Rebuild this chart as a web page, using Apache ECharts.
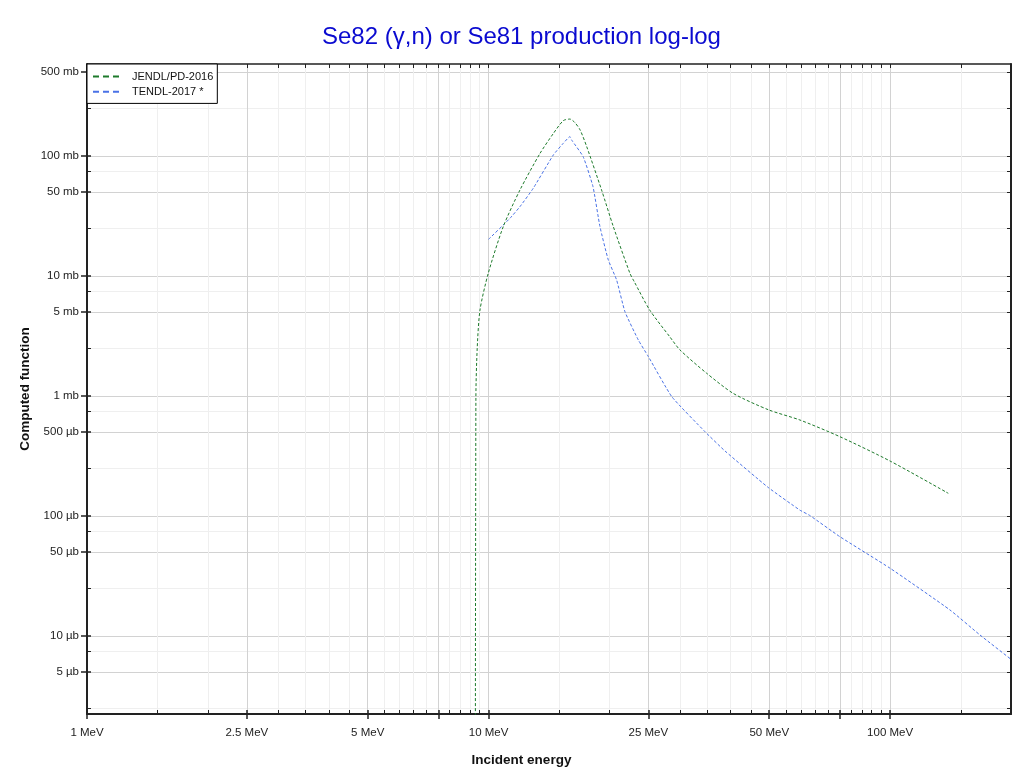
<!DOCTYPE html>
<html>
<head>
<meta charset="utf-8">
<script src="https://cdn.jsdelivr.net/npm/echarts@6/dist/echarts.min.js"></script>
<style>
html,body{margin:0;padding:0;background:#fff;overflow:hidden;}
#frame{position:absolute;left:6px;top:4px;width:1100px;height:900px;border-left:1px solid #e6e6e6;border-top:1px solid #e6e6e6;}
#chart{position:absolute;left:0;top:0;width:1020px;height:774px;}
</style>
</head>
<body>
<div id="frame"></div>
<div id="chart"></div>
<script>
// ---- Data (energy in MeV, cross-section in mb) ----
const jendlEnergy = [9.26, 9.30, 9.37, 9.52, 9.98, 10.88, 11.97, 13.43, 14.5, 15.35, 15.95, 16.4, 16.9, 17.55, 19.12, 20.45, 22.5, 23.06, 25.2, 28.3, 29.97, 34.9, 40.7, 49.9, 59.6, 75, 100, 139.6];
const jendlValue  = [0.00001, 1.0, 2.5, 5.2, 10.5, 25.8, 52, 105, 154, 197, 203, 190, 165, 120, 52, 25.8, 10.5, 8.96, 5.2, 3.1, 2.42, 1.55, 1.05, 0.765, 0.631, 0.458, 0.287, 0.1546];

const tendlEnergy = [10.0, 11.31, 11.97, 12.92, 14.5, 15.35, 15.95, 16.1, 17.2, 18.2, 18.94, 19.87, 20.84, 21.86, 23.6, 25, 28.6, 34.6, 38.8, 49.7, 59.6, 63.1, 75, 100, 140.9, 167.4, 200];
const tendlValue  = [20.2, 30.3, 37.8, 53.8, 102, 127.6, 145, 136, 98.7, 55.5, 25.8, 13.6, 9.26, 5.04, 2.93, 2.13, 0.987, 0.504, 0.348, 0.173, 0.112, 0.101, 0.0672, 0.0367, 0.0165, 0.0102, 0.0064];

const seriesNames = ['JENDL/PD-2016', 'TENDL-2017 *'];

// Axis ticks
const xLabelValues = [1, 2.5, 5, 10, 25, 50, 100];
const xLabelTexts  = ['1 MeV', '2.5 MeV', '5 MeV', '10 MeV', '25 MeV', '50 MeV', '100 MeV'];
const xMajorValues = [1, 2.5, 5, 7.5, 10, 25, 50, 75, 100];
const xMinorValues = [1.5, 2, 3, 3.5, 4, 4.5, 5.5, 6, 6.5, 7, 8, 8.5, 9, 9.5, 15, 20, 30, 35, 40, 45, 55, 60, 65, 70, 80, 85, 90, 95, 150];
const xMin = 1, xMax = 200;

const yLabelValues = [500, 100, 50, 10, 5, 1, 0.5, 0.1, 0.05, 0.01, 0.005];
const yLabelTexts  = ['500 mb', '100 mb', '50 mb', '10 mb', '5 mb', '1 mb', '500 µb', '100 µb', '50 µb', '10 µb', '5 µb'];
const yMinorValues = [250, 75, 25, 7.5, 2.5, 0.75, 0.25, 0.075, 0.025, 0.0075, 0.0025];
const yMin = 0.00224, yMax = 584;

// ---- Build ----
const L = v => Math.log10(v);
const lx = a => a.map(L);
const AX = '#222';
const FONT = 'Liberation Sans, Arial, sans-serif';

function fmt(values, texts) {
  return function (v) {
    for (let i = 0; i < values.length; i++) {
      if (Math.abs(L(values[i]) - v) < 1e-6) return texts[i];
    }
    return '';
  };
}

const common = { type: 'value', min: L(xMin), max: L(xMax) };
const commonY = { type: 'value', min: L(yMin), max: L(yMax) };

const xAxes = [
  Object.assign({}, common, {
    position: 'bottom',
    axisLine: { show: false, onZero: false },
    axisTick: { show: true, inside: true, length: 4, customValues: lx(xMinorValues), lineStyle: { color: AX } },
    axisLabel: { show: false },
    splitLine: { show: true, lineStyle: { color: '#efefef', width: 1 } }
  }),
  Object.assign({}, common, {
    position: 'bottom',
    axisLine: { show: true, onZero: false, lineStyle: { color: AX, width: 2 } },
    axisTick: { show: true, inside: false, length: 5, customValues: lx(xMajorValues), lineStyle: { color: AX, width: 1.5 } },
    axisLabel: { show: true, customValues: lx(xLabelValues), formatter: fmt(xLabelValues, xLabelTexts),
                 margin: 13, color: '#222', fontSize: 11.5, fontFamily: FONT },
    splitLine: { show: true, lineStyle: { color: '#d2d2d2', width: 1 } },
    name: 'Incident energy', nameLocation: 'middle', nameGap: 39, nameMoveOverlap: false,
    nameTextStyle: { fontWeight: 'bold', fontSize: 13.5, color: '#111', fontFamily: FONT, padding: [0, 55, 0, 0] }
  }),
  Object.assign({}, common, {
    position: 'bottom',
    axisLine: { show: false, onZero: false },
    axisTick: { show: true, inside: true, length: 4, customValues: lx(xMajorValues), lineStyle: { color: AX, width: 1.5 } },
    axisLabel: { show: false },
    splitLine: { show: false }
  }),
  Object.assign({}, common, {
    position: 'top',
    axisLine: { show: true, onZero: false, lineStyle: { color: AX, width: 1.5 } },
    axisTick: { show: true, inside: true, length: 4, customValues: lx(xMajorValues.concat(xMinorValues)), lineStyle: { color: AX } },
    axisLabel: { show: false },
    splitLine: { show: false }
  })
];

const yAxes = [
  Object.assign({}, commonY, {
    position: 'left',
    axisLine: { show: false, onZero: false },
    axisTick: { show: true, inside: true, length: 4, customValues: lx(yMinorValues), lineStyle: { color: AX } },
    axisLabel: { show: false },
    splitLine: { show: true, lineStyle: { color: '#efefef', width: 1 } }
  }),
  Object.assign({}, commonY, {
    position: 'left',
    axisLine: { show: true, onZero: false, lineStyle: { color: AX, width: 2 } },
    axisTick: { show: true, inside: false, length: 6, customValues: lx(yLabelValues), lineStyle: { color: AX, width: 1.5 } },
    axisLabel: { show: true, customValues: lx(yLabelValues), formatter: fmt(yLabelValues, yLabelTexts),
                 margin: 8, color: '#222', fontSize: 11.5, fontFamily: FONT },
    splitLine: { show: true, lineStyle: { color: '#d2d2d2', width: 1 } },
    name: 'Computed function', nameLocation: 'middle', nameGap: 55, nameRotate: 90, nameMoveOverlap: false,
    nameTextStyle: { fontWeight: 'bold', fontSize: 13.5, color: '#111', fontFamily: FONT }
  }),
  Object.assign({}, commonY, {
    position: 'left',
    axisLine: { show: false, onZero: false },
    axisTick: { show: true, inside: true, length: 4, customValues: lx(yLabelValues), lineStyle: { color: AX, width: 1.5 } },
    axisLabel: { show: false },
    splitLine: { show: false }
  }),
  Object.assign({}, commonY, {
    position: 'right',
    axisLine: { show: true, onZero: false, lineStyle: { color: AX, width: 2 } },
    axisTick: { show: true, inside: true, length: 4, customValues: lx(yLabelValues.concat(yMinorValues)), lineStyle: { color: AX } },
    axisLabel: { show: false },
    splitLine: { show: false }
  })
];

function toPairs(E, S) { return E.map((e, i) => [L(e), L(S[i])]); }

const chart = echarts.init(document.getElementById('chart'), null, { renderer: 'canvas' });
chart.setOption({
  animation: false,
  backgroundColor: '#fff',
  title: {
    text: 'Se82 (γ,n) or Se81 production log-log',
    left: 317, top: 20,
    textStyle: { color: '#0a0ad0', fontSize: 24, fontWeight: 'normal', fontFamily: FONT }
  },
  grid: { left: 87, right: 9, top: 64, bottom: 60, containLabel: false },
  legend: {
    orient: 'vertical', left: 87, top: 64,
    padding: [7, 4, 6, 5], itemGap: 4, itemWidth: 26, itemHeight: 14,
    backgroundColor: '#fff', borderColor: '#000', borderWidth: 1,
    textStyle: { fontSize: 11, color: '#111', fontFamily: FONT, padding: [0, 0, 0, 8] },
    lineStyle: { width: 2, type: [6, 4] },
    itemStyle: { opacity: 0, borderWidth: 0, color: 'rgba(0,0,0,0)' },
    data: seriesNames
  },
  xAxis: xAxes,
  yAxis: yAxes,
  series: [
    {
      name: seriesNames[0], type: 'line', xAxisIndex: 1, yAxisIndex: 1,
      data: toPairs(jendlEnergy, jendlValue), symbol: 'none', showSymbol: false,
      smooth: 0.25,
      lineStyle: { color: '#1d7a2b', width: 1, type: [3, 2] }, itemStyle: { color: '#1d7a2b' }, z: 5
    },
    {
      name: seriesNames[1], type: 'line', xAxisIndex: 1, yAxisIndex: 1,
      data: toPairs(tendlEnergy, tendlValue), symbol: 'none', showSymbol: false,
      smooth: 0.15,
      lineStyle: { color: '#4a72e6', width: 1, type: [3, 2] }, itemStyle: { color: '#4a72e6' }, z: 4
    }
  ]
});
</script>
</body>
</html>
